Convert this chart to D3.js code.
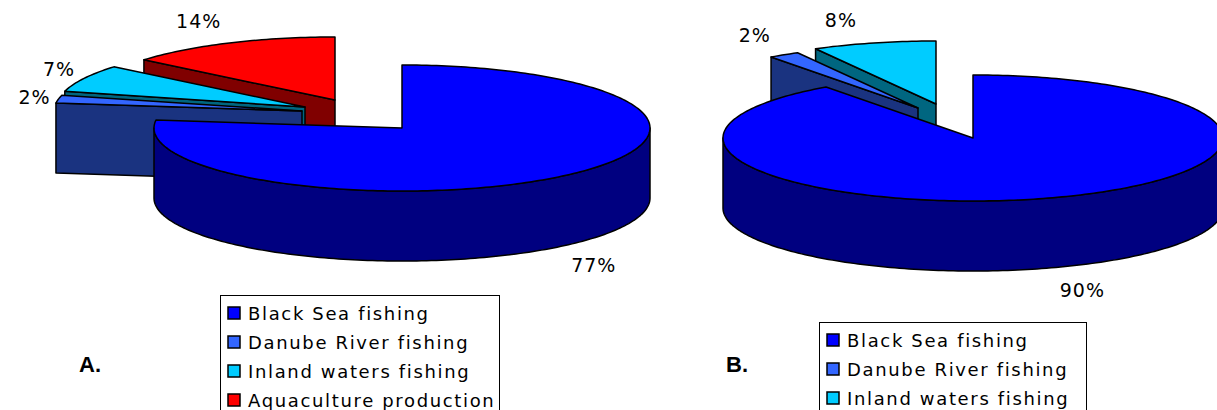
<!DOCTYPE html>
<html>
<head>
<meta charset="utf-8">
<script src="https://d3js.org/d3.v7.min.js"></script>
<style>
  body { margin: 0; background: #fff; }
  svg { display: block; }
</style>
</head>
<body>
<div id="chart"></div>
<script>
// data
var categories = ["Black Sea fishing", "Danube River fishing", "Inland waters fishing", "Aquaculture production"];
var valuesA = [77, 2, 7, 14];
var valuesB = [90, 2, 8];
var panelLabels = ["A.", "B."];

var topColors = ["#0000ff", "#3366ff", "#00ccff", "#ff0000"];
var sideColors = ["#000080", "#1a3380", "#006680", "#800000"];

var width = 1217, height = 410;

var svg = d3.select('#chart').append('svg')
    .attr('width', width)
    .attr('height', height)
    .style('background', '#fff');

// layout of each 3D pie: centre, radii, depth, explode offsets per slice
var charts = [
    { values: valuesA, cx: 402, cy: 128, rx: 248, ry: 63, depth: 70,
      explode: [[0, 0], [-100, -17], [-97, -21], [-67, -28]],
      legend: { x: 220, y: 295, w: 279 }, label: { x: 90, y: 364 } },
    { values: valuesB, cx: 973, cy: 138, rx: 250, ry: 63, depth: 70,
      explode: [[0, 0], [-55, -30], [-37, -34]],
      legend: { x: 819, y: 322, w: 267 }, label: { x: 737, y: 364 } }
];

var pie = d3.pie().sort(null).startAngle(0).endAngle(2 * Math.PI);
var line = d3.line();
var pct = d3.format('.0f');

function rim(c, a) {
    return [c.x + c.rx * Math.sin(a), c.y - c.ry * Math.cos(a)];
}
function arcPts(c, a0, a1, dy) {
    var n = Math.max(2, Math.ceil((a1 - a0) / 0.02));
    return d3.range(n + 1).map(function(i) {
        var p = rim(c, a0 + (a1 - a0) * i / n);
        return [p[0], p[1] + (dy || 0)];
    });
}

charts.forEach(function(ch, ci) {
    var total = d3.sum(ch.values);
    var arcs = pie(ch.values).map(function(d, i) {
        return { i: i, value: d.value, a0: d.startAngle, a1: d.endAngle,
                 x: ch.cx + ch.explode[i][0], y: ch.cy + ch.explode[i][1],
                 rx: ch.rx, ry: ch.ry };
    });
    // back slices first
    var order = arcs.slice().sort(function(a, b) { return a.y - b.y; });
    var g = svg.append('g');
    order.forEach(function(s) {
        var sg = g.append('g');
        var D = ch.depth;
        // radial faces
        [[s.a0, -Math.sin(s.a0)], [s.a1, Math.sin(s.a1)]].forEach(function(f) {
            if (f[1] > 0.001) {
                var p = rim(s, f[0]);
                sg.append('path')
                    .attr('d', line([[s.x, s.y], p, [p[0], p[1] + D], [s.x, s.y + D]]) + 'Z')
                    .attr('fill', sideColors[s.i])
                    .attr('stroke', '#000').attr('stroke-width', 1.5)
                    .attr('stroke-linejoin', 'round');
            }
        });
        // outer wall (front half only)
        var w0 = Math.max(s.a0, Math.PI / 2), w1 = Math.min(s.a1, 3 * Math.PI / 2);
        if (w1 > w0) {
            var topPts = arcPts(s, w0, w1, 0);
            var botPts = arcPts(s, w0, w1, D).reverse();
            sg.append('path')
                .attr('d', line(topPts.concat(botPts)) + 'Z')
                .attr('fill', sideColors[s.i])
                .attr('stroke', '#000').attr('stroke-width', 1.5)
                .attr('stroke-linejoin', 'round');
        }
        // top face
        sg.append('path')
            .attr('d', line([[s.x, s.y]].concat(arcPts(s, s.a0, s.a1, 0))) + 'Z')
            .attr('fill', topColors[s.i])
            .attr('stroke', '#000').attr('stroke-width', 1.5)
            .attr('stroke-linejoin', 'round');
    });

    // percentage labels, placed just outside the rim
    arcs.forEach(function(s) {
        var m = (s.a0 + s.a1) / 2;
        var sn = Math.sin(m), cs = Math.cos(m);
        var lx = s.x + s.rx * 0.95 * sn + (sn < 0 ? -36 : 36);
        var ly;
        if (cs > 0) ly = s.y - (s.ry * 1.43 * cs - 3);
        else ly = s.y + ch.depth + s.ry * 1.15 * (-cs) + 13;
        svg.append('text')
            .attr('x', lx).attr('y', ly)
            .attr('text-anchor', 'middle')
            .attr('dominant-baseline', 'central')
            .style('font-family', 'DejaVu Sans, Verdana, sans-serif')
            .style('font-size', '19px')
            .style('letter-spacing', '1px')
            .style('fill', '#000')
            .text(pct(s.value / total * 100) + '%');
    });

    // legend
    var L = ch.legend;
    var lg = svg.append('g').attr('transform', 'translate(' + L.x + ',' + L.y + ')');
    lg.append('rect')
        .attr('x', 0.5).attr('y', 0.5)
        .attr('width', L.w).attr('height', 200)
        .attr('fill', '#fff').attr('stroke', '#000').attr('stroke-width', 1);
    ch.values.forEach(function(v, i) {
        var row = lg.append('g').attr('transform', 'translate(0,' + (18 + i * 29) + ')');
        row.append('rect')
            .attr('x', 8).attr('y', -6)
            .attr('width', 12).attr('height', 12)
            .attr('fill', topColors[i]).attr('stroke', '#000').attr('stroke-width', 1.5);
        row.append('text')
            .attr('x', 28).attr('y', 0)
            .attr('dominant-baseline', 'central')
            .style('font-family', 'DejaVu Sans, Verdana, sans-serif')
            .style('font-size', '18px')
            .style('letter-spacing', '1.65px')
            .style('fill', '#000')
            .text(categories[i]);
    });

    svg.append('text')
        .attr('x', ch.label.x).attr('y', ch.label.y)
        .attr('text-anchor', 'middle')
        .attr('dominant-baseline', 'central')
        .style('font-family', 'Liberation Sans, Arial, sans-serif')
        .style('font-weight', 'bold')
        .style('font-size', '22px')
        .text(panelLabels[ci]);
});
</script>
</body>
</html>
